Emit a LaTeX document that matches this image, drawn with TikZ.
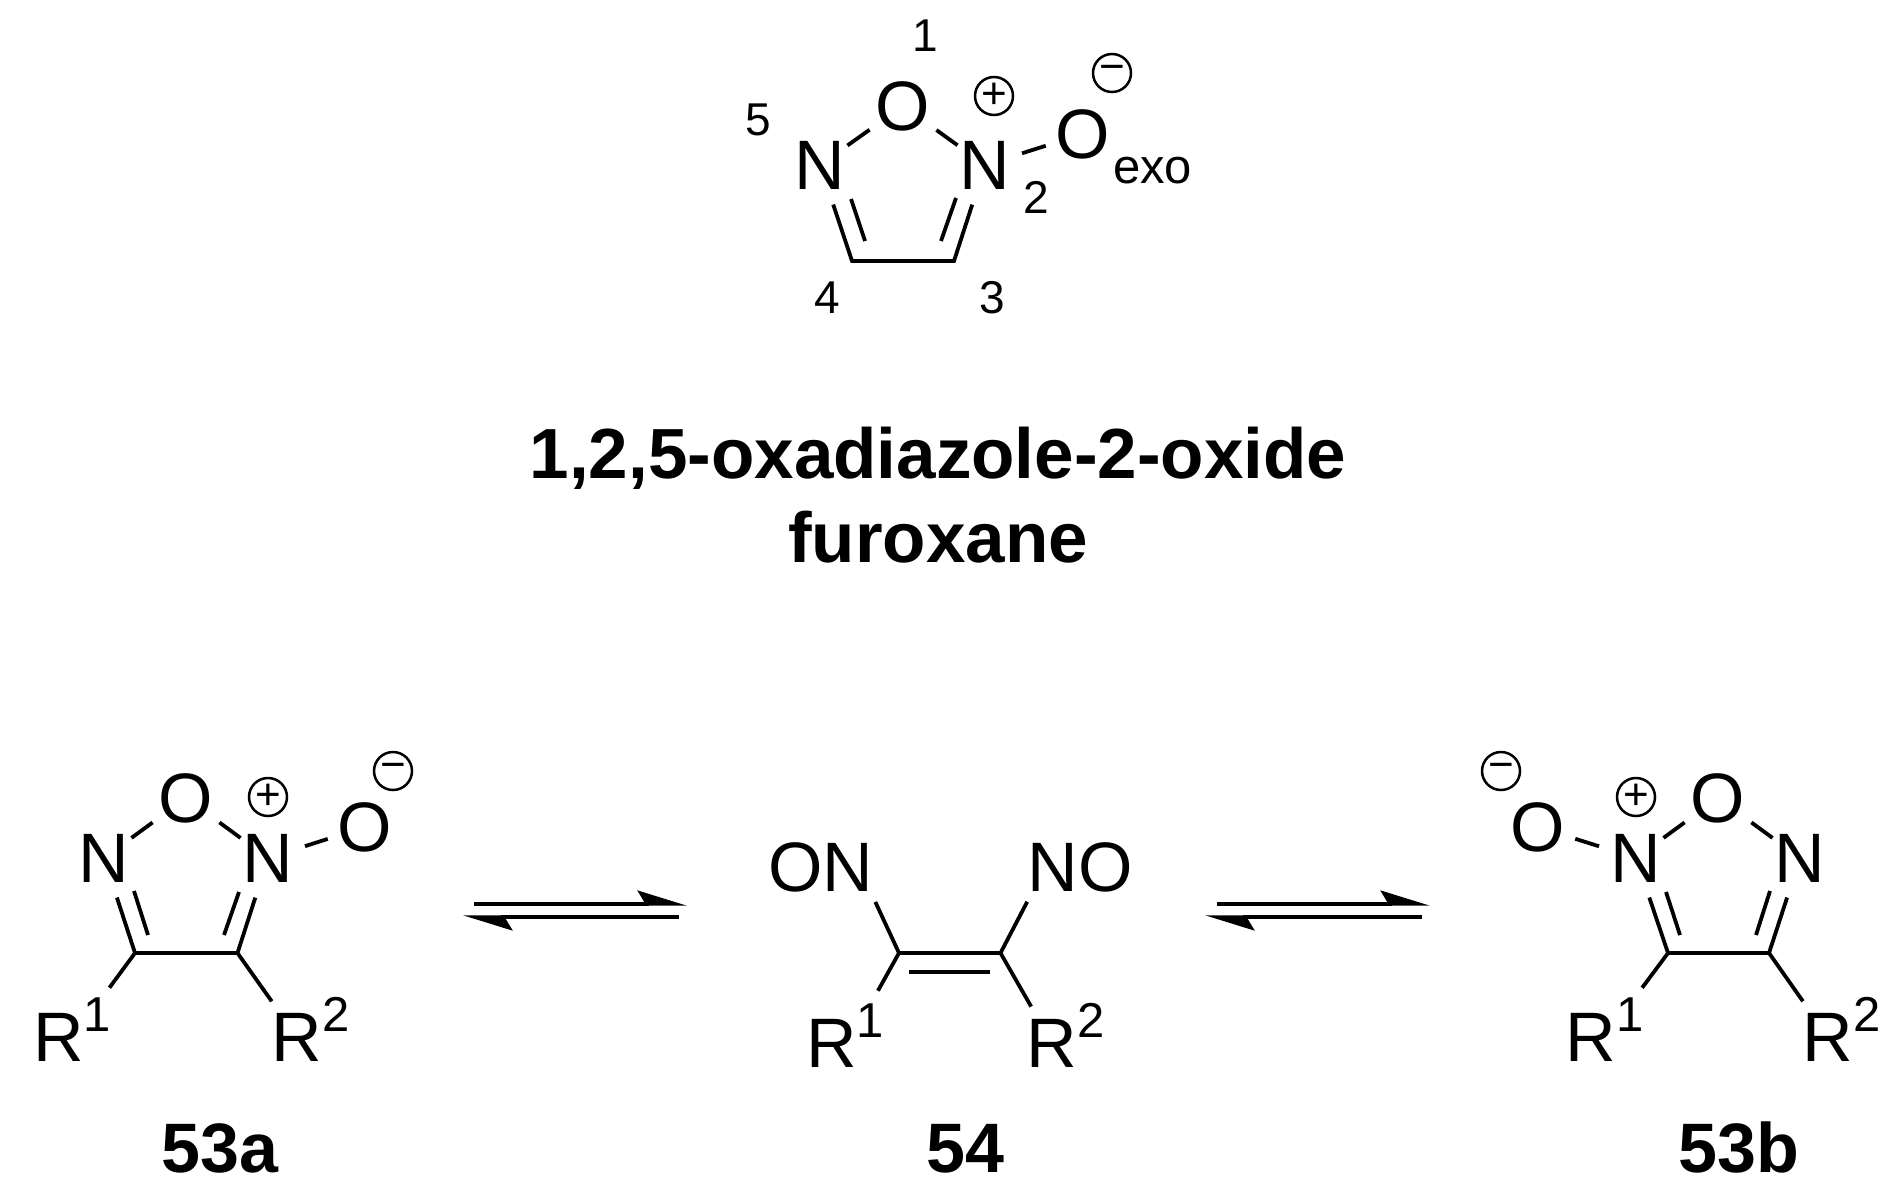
\documentclass[tikz,border=0pt]{standalone}
\usepackage{fontspec}
\setmainfont{Liberation Sans}
\usetikzlibrary{positioning,arrows.meta}

\newcommand{\Rgrp}[1]{R\smash{\rlap{\raisebox{30pt}{\fontsize{49}{49}\selectfont #1}}}}

\begin{document}
\begin{tikzpicture}[x=1pt,y=-1pt,
            atom/.style={inner sep=2pt,font=\fontsize{70}{84}\selectfont},
            oxy/.style={inner sep=6pt,font=\fontsize{70}{84}\selectfont},
            rgrp/.style={inner sep=0pt,font=\fontsize{70}{84}\selectfont},
            num/.style={inner sep=0pt,font=\fontsize{46}{46}\selectfont},
            charge/.style={draw,circle,line width=2.5pt,minimum size=38pt,inner sep=0pt,font=\fontsize{44}{44}\selectfont},
            cmpd/.style={anchor=base,inner sep=0pt,font=\fontsize{70}{84}\selectfont\bfseries},
            title/.style={inner sep=0pt,font=\fontsize{71}{84}\selectfont\bfseries},
            bond/.style={line width=3.8pt},
            ringbond/.style={bond,shorten <=14pt,shorten >=14pt},
            exobond/.style={shorten <=10pt,shorten >=4pt},
            rone/.style={shorten >=43pt},
            rtwo/.style={shorten >=14pt},
            eqarrow/.style={line width=3.4pt,-{Stealth[harpoon,length=44pt,width=27pt,inset=8pt]}}]
            \useasboundingbox (0,0) rectangle (1895,1201);

            \node[oxy] (oa) at (903,106) {O};
            \node[atom] (na) at (820,165) {N};
            \node[atom] (nb) at (985,165) {N};
            \node[oxy] (ox) at (1083,134) {O};
            \node[anchor=base west,inner sep=0pt,font=\fontsize{49}{49}\selectfont] (exo) at (1113,184) {exo};
            \node[charge] (pa) at (994,96) {+};
            \node[charge] (ma) at (1112,73) {\raisebox{-.2em}{−}};
            \node[num] (one) at (925,36) {1};
            \node[num] (two) at (1036,197) {2};
            \node[num] (three) at (992,298) {3};
            \node[num] (four) at (827,298) {4};
            \node[num] (five) at (758,120) {5};
            \coordinate (ca) at (852,261);
            \coordinate (cb) at (954,261);
            \coordinate (ia) at (851,199);
            \coordinate (ib) at (865,241);
            \coordinate (ic) at (956,198);
            \coordinate (id) at (941,241);
            \draw[ringbond] (na) -- (ca) -- (cb) -- (nb);
            \path[bond]
            (na) edge (oa)
            (oa) edge (nb)
            (nb) edge[exobond] (ox)
            (ia) edge (ib)
            (ic) edge (id);

            \node[title,anchor=base] (name) at (938,478) {1,2,5-oxadiazole-2-oxide};
            \node[title,below=84pt of name.base,anchor=base] (furox) {furoxane};

            \node[oxy] (oc) at (186,798) {O};
            \node[atom] (nc) at (104,858) {N};
            \node[atom] (nd) at (268,858) {N};
            \node[oxy] (oy) at (365,827) {O};
            \node[charge] (pc) at (268,797) {+};
            \node[charge] (mc) at (393,771) {\raisebox{-.2em}{−}};
            \node[rgrp] (ra) at (58.5,1037) {\Rgrp{1}};
            \node[rgrp] (rb) at (297,1037) {\Rgrp{2}};
            \node[cmpd] (laba) at (220,1172) {53a};
            \coordinate (cc) at (135,953);
            \coordinate (cd) at (237.5,953);
            \coordinate (ie) at (134,891);
            \coordinate (if) at (148,935);
            \coordinate (ig) at (239,892);
            \coordinate (ih) at (224,935);
            \draw[ringbond] (nc) -- (cc) -- (cd) -- (nd);
            \path[bond]
            (nc) edge (oc)
            (oc) edge (nd)
            (nd) edge[exobond] (oy)
            (ie) edge (if)
            (ig) edge (ih)
            (cc) edge[rone] (ra.30)
            (cd) edge[rtwo] (rb);

            \coordinate (ea) at (474,904);
            \coordinate (eb) at (687,904);
            \coordinate (ec) at (679,917);
            \coordinate (ed) at (463,917);
            \draw[eqarrow] (ea) -- (eb);
            \draw[eqarrow] (ec) -- (ed);

            \node[rgrp] (on) at (821,867) {ON};
            \node[rgrp] (no) at (1080,867) {NO};
            \node[rgrp] (rc) at (831.5,1043) {\Rgrp{1}};
            \node[rgrp] (rd) at (1052,1043) {\Rgrp{2}};
            \node[cmpd] (labc) at (965,1172) {54};
            \coordinate (ce) at (899,953);
            \coordinate (cf) at (1000.5,953);
            \coordinate (ii) at (909,972);
            \coordinate (ij) at (990,972);
            \path[bond]
            (ce) edge (cf)
            (ii) edge (ij)
            (ce) edge[shorten >=11pt] ([xshift=-3pt]on.south east)
            (cf) edge[shorten >=11pt] ([xshift=5pt]no.south west)
            (ce) edge[rone] (rc.30)
            (cf) edge[rtwo] (rd);

            \coordinate (ee) at (1217,904);
            \coordinate (ef) at (1430,904);
            \coordinate (eg) at (1422,917);
            \coordinate (eh) at (1205,917);
            \draw[eqarrow] (ee) -- (ef);
            \draw[eqarrow] (eg) -- (eh);

            \node[oxy] (oe) at (1718,798) {O};
            \node[atom] (ne) at (1636,858) {N};
            \node[atom] (nf) at (1800,858) {N};
            \node[oxy] (oz) at (1538,827) {O};
            \node[charge] (pe) at (1636,797) {+};
            \node[charge] (me) at (1501,771) {\raisebox{-.2em}{−}};
            \node[rgrp] (re) at (1591,1037) {\Rgrp{1}};
            \node[rgrp] (rf) at (1828,1037) {\Rgrp{2}};
            \node[cmpd] (labe) at (1739,1172) {53b};
            \coordinate (cg) at (1668,953);
            \coordinate (ch) at (1769,953);
            \coordinate (ik) at (1666,892);
            \coordinate (il) at (1680,935);
            \coordinate (im) at (1770,891);
            \coordinate (in) at (1756,935);
            \draw[ringbond] (ne) -- (cg) -- (ch) -- (nf);
            \path[bond]
            (ne) edge (oe)
            (oe) edge (nf)
            (ne) edge[exobond] (oz)
            (ik) edge (il)
            (im) edge (in)
            (cg) edge[rone] (re.30)
            (ch) edge[rtwo] (rf);
          \end{tikzpicture}
\end{document}
